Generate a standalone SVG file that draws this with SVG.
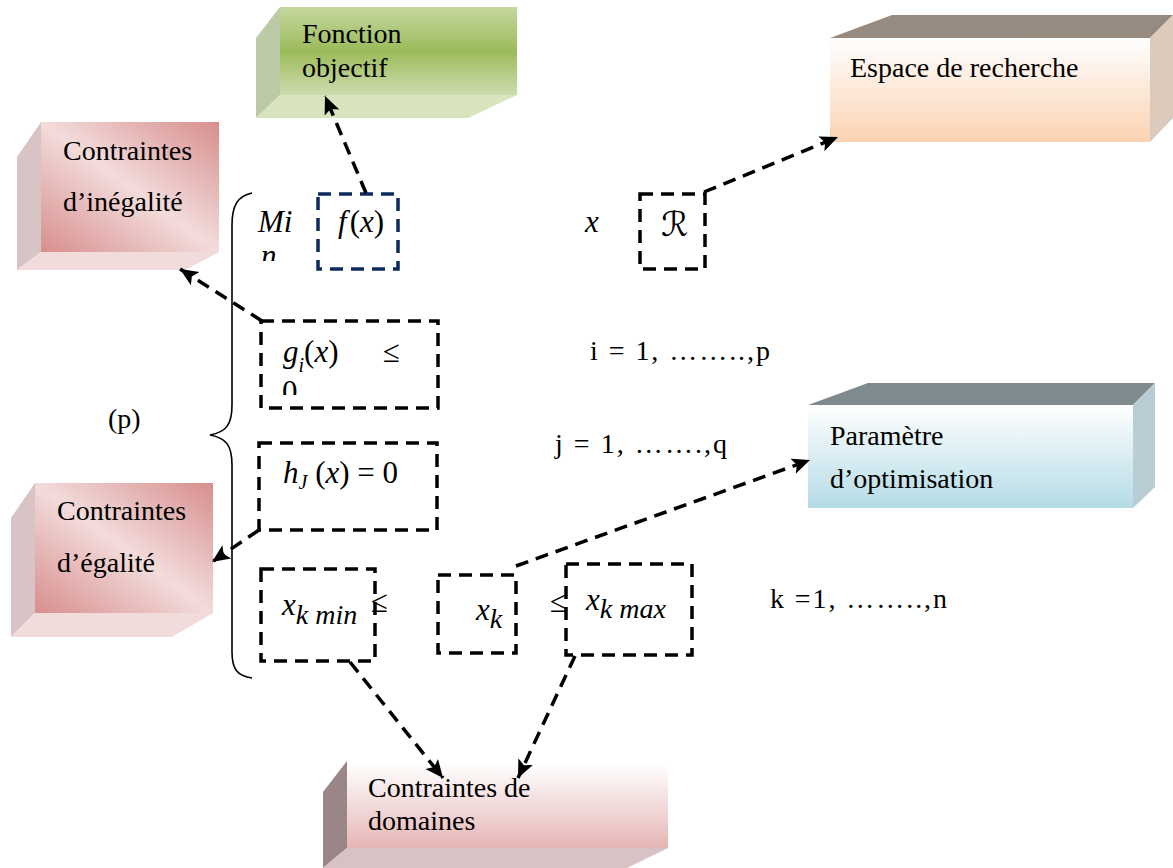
<svg xmlns="http://www.w3.org/2000/svg" width="1173" height="868" viewBox="0 0 1173 868">
<style>
.lbl{font-family:"Liberation Serif","Times New Roman",serif;font-size:28px;fill:#000}
.eq{font-family:"Liberation Serif","Times New Roman",serif;font-size:28px;fill:#000}
.m{font-family:"Liberation Serif","Times New Roman",serif;font-style:italic;font-size:31px;fill:#000}
.mu{font-family:"Liberation Serif","Times New Roman",serif;font-size:31px;fill:#000}
.box{fill:none;stroke:#000;stroke-width:3.5;stroke-dasharray:13 8}
.boxb{fill:none;stroke:#0d2a5e;stroke-width:3.5;stroke-dasharray:13 8}
.con{fill:none;stroke:#000;stroke-width:3.5;stroke-dasharray:13 8}
</style>
<defs>
<linearGradient id="gGreen" x1="0" y1="0" x2="0" y2="1">
<stop offset="0" stop-color="#c5d8a0"/><stop offset="0.5" stop-color="#9bbb59"/><stop offset="1" stop-color="#cddcae"/>
</linearGradient>
<linearGradient id="gPeach" x1="0" y1="0" x2="0" y2="1">
<stop offset="0" stop-color="#ffffff"/><stop offset="1" stop-color="#fbd3b3"/>
</linearGradient>
<linearGradient id="gPink" x1="1" y1="0" x2="0" y2="1">
<stop offset="0" stop-color="#d78e8d"/><stop offset="0.5" stop-color="#f2dcdb"/><stop offset="1" stop-color="#d78e8d"/>
</linearGradient>
<linearGradient id="gBlue" x1="0" y1="0" x2="0" y2="1">
<stop offset="0" stop-color="#ffffff"/><stop offset="1" stop-color="#b4dbe6"/>
</linearGradient>
<linearGradient id="gDom" x1="0" y1="0" x2="0" y2="1">
<stop offset="0" stop-color="#ffffff"/><stop offset="1" stop-color="#e5b6b5"/>
</linearGradient>
<marker id="arr" markerUnits="userSpaceOnUse" markerWidth="20" markerHeight="18" refX="18" refY="8" orient="auto">
<path d="M0,0 L18,8 L0,16 L4,8 Z" fill="#000"/>
</marker>
<clipPath id="clipN"><rect x="250" y="240" width="40" height="21"/></clipPath>
<clipPath id="clip0"><rect x="270" y="370" width="40" height="25"/></clipPath>
</defs>

<g id="fonction-objectif">
<polygon points="256,38 280,7 280,95 256,118" fill="#bccaa8"/>
<polygon points="256,118 280,95 517,95 468,118" fill="#d8e4bd"/>
<rect x="280" y="7" width="237" height="88" fill="url(#gGreen)"/>
<text class="lbl" x="302" y="43">Fonction</text>
<text class="lbl" x="302" y="77">objectif</text>
</g>

<g id="espace-recherche">
<polygon points="830,38 892,15 1173,15 1150,38" fill="#978a80"/>
<polygon points="1150,38 1173,15 1173,118 1150,142" fill="#dccabc"/>
<rect x="830" y="38" width="320" height="104" fill="url(#gPeach)"/>
<text class="lbl" x="850" y="77">Espace de recherche</text>
</g>

<g id="contraintes-inegalite">
<polygon points="17,157 41,122 41,252 17,270" fill="#d8c3c5"/>
<polygon points="17,270 41,252 219,252 185,270" fill="#f2dcdb"/>
<rect x="41" y="122" width="178" height="130" fill="url(#gPink)"/>
<text class="lbl" x="63" y="160">Contraintes</text>
<text class="lbl" x="63" y="211">d’inégalité</text>
</g>

<g id="contraintes-egalite">
<polygon points="11,518 35,483 35,613 11,637" fill="#d8c3c5"/>
<polygon points="11,637 35,613 213,613 172,637" fill="#f2dcdb"/>
<rect x="35" y="483" width="178" height="130" fill="url(#gPink)"/>
<text class="lbl" x="57" y="520">Contraintes</text>
<text class="lbl" x="57" y="572">d’égalité</text>
</g>

<g id="parametre-optimisation">
<polygon points="808,405 868,383 1155,383 1133,405" fill="#7f8a8f"/>
<polygon points="1133,405 1155,383 1155,487 1133,508" fill="#b8ced4"/>
<rect x="808" y="405" width="325" height="103" fill="url(#gBlue)"/>
<text class="lbl" x="830" y="445">Paramètre</text>
<text class="lbl" x="830" y="488">d’optimisation</text>
</g>

<g id="contraintes-domaines">
<polygon points="323,792 347,761 347,848 323,868" fill="#9a8686"/>
<polygon points="323,868 347,848 668,848 627,868" fill="#d9c2c3"/>
<rect x="347" y="763" width="321" height="85" fill="url(#gDom)"/>
<text class="lbl" x="368" y="797">Contraintes de</text>
<text class="lbl" x="368" y="830">domaines</text>
</g>

<g id="formule">
<path d="M252,193 C238,196 232,205 232,225 L232,405 C232,425 226,432 210,435 C226,438 232,445 232,465 L232,652 C232,670 238,676 252,678" fill="none" stroke="#000" stroke-width="1.6"/>
<text class="eq" x="108" y="428" font-size="30">(p)</text>
<text class="m" x="258" y="232">Mi</text>
<text class="m" x="261" y="266" clip-path="url(#clipN)">n</text>
<text class="m" x="338" y="232">f<tspan font-style="normal" dx="3">(</tspan>x<tspan font-style="normal">)</tspan></text>
<text class="m" x="585" y="232">x</text>
<text x="661" y="236" font-family="DejaVu Sans, sans-serif" font-size="34">ℛ</text>
<text class="m" x="283" y="362">g<tspan font-size="20" dy="10">i</tspan><tspan dy="-10" font-style="normal">(</tspan>x<tspan font-style="normal">)</tspan></text>
<text class="mu" x="383" y="362" font-size="34">≤</text>
<text class="mu" x="282" y="402" clip-path="url(#clip0)">0</text>
<text class="eq" x="590" y="360" textLength="180">i = 1, ……..,p</text>
<text class="m" x="283" y="483">h<tspan font-size="20" dy="6">J</tspan><tspan dy="-6" font-style="normal"> (</tspan>x<tspan font-style="normal">) = 0</tspan></text>
<text class="eq" x="555" y="453" textLength="172">j = 1, …….,q</text>
<text class="m" x="282" y="615" font-size="40">x<tspan font-size="28" dy="9">k min</tspan></text>
<text class="mu" x="371" y="612">≤</text>
<text class="m" x="476" y="620" font-size="40">x<tspan font-size="28" dy="8">k</tspan></text>
<text class="mu" x="550" y="612">≤</text>
<text class="m" x="586" y="610" font-size="40">x<tspan font-size="28" dy="8">k max</tspan></text>
<text class="eq" x="770" y="608" textLength="177">k =1, ……..,n</text>
</g>

<g id="boxes">
<rect class="boxb" x="318" y="194" width="80" height="75"/>
<rect class="box" x="640" y="194" width="65" height="75"/>
<rect class="box" x="261" y="321" width="177" height="87"/>
<rect class="box" x="259" y="443" width="178" height="87"/>
<rect class="box" x="261" y="569" width="114" height="92"/>
<rect class="box" x="438" y="575" width="78" height="78"/>
<rect class="box" x="566" y="564" width="126" height="91"/>
</g>

<g id="connectors">
<line class="con" x1="366" y1="193" x2="325" y2="96" marker-end="url(#arr)"/>
<line class="con" x1="704" y1="192" x2="838" y2="137" marker-end="url(#arr)"/>
<line class="con" x1="262" y1="321" x2="180" y2="269" marker-end="url(#arr)"/>
<line class="con" x1="259" y1="530" x2="212" y2="562" marker-end="url(#arr)"/>
<line class="con" x1="516" y1="566" x2="810" y2="460" marker-end="url(#arr)"/>
<line class="con" x1="350" y1="662" x2="443" y2="778" marker-end="url(#arr)"/>
<line class="con" x1="575" y1="656" x2="518" y2="778" marker-end="url(#arr)"/>
</g>
</svg>
